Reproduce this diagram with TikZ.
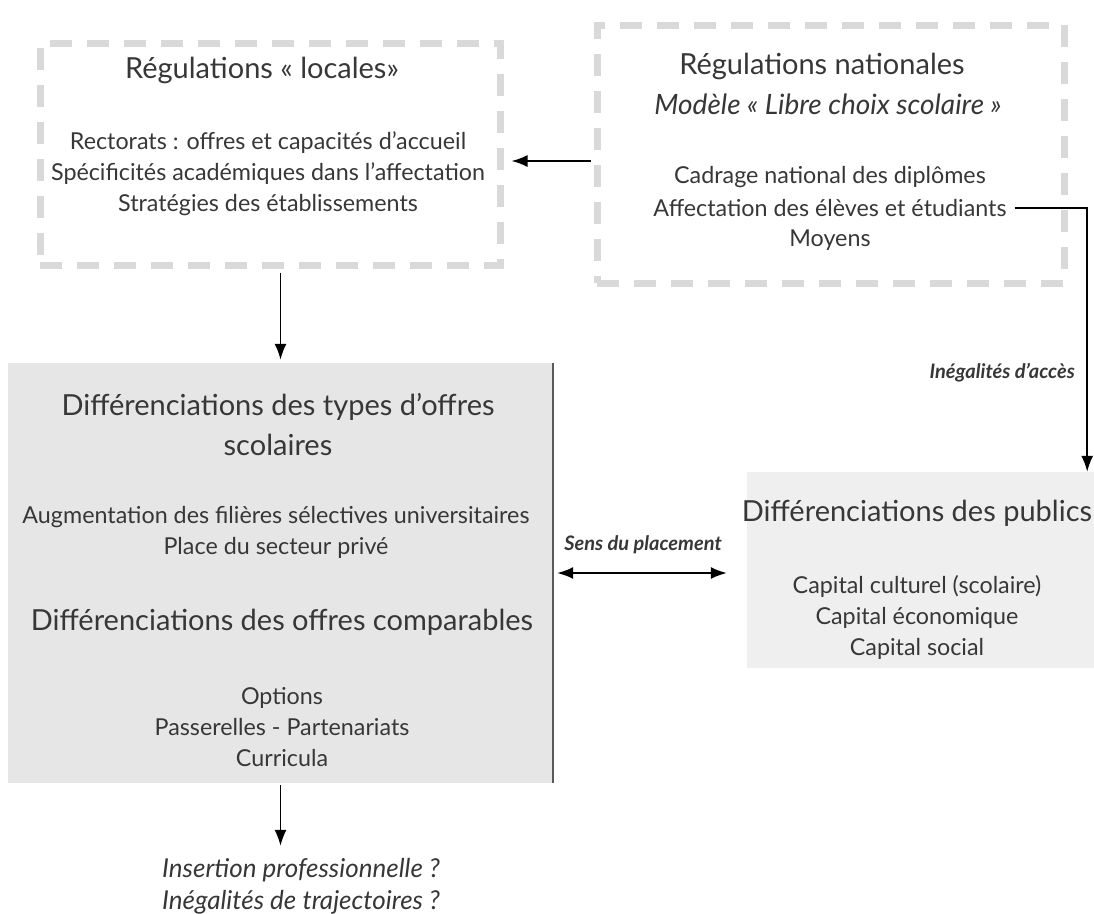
\documentclass[tikz,border=0pt]{standalone}
\usepackage{fontspec}
\setmainfont{Lato}
\usetikzlibrary{arrows.meta}

\definecolor{dashgray}{RGB}{217,217,217}
\definecolor{offregray}{RGB}{230,230,230}
\definecolor{publicgray}{RGB}{238,239,238}
\definecolor{edgegray}{RGB}{90,90,90}
\definecolor{inkgray}{RGB}{55,55,55}

\tikzset{
	regbox/.style={draw=dashgray, line width=7pt, dash pattern=on 22pt off 15pt, inner sep=0pt},
	titletext/.style={inner sep=0pt, align=center, text=inkgray, font=\fontsize{29}{40}\selectfont},
	bodytext/.style={inner sep=0pt, align=center, text=inkgray, font=\fontsize{23.3}{31}\selectfont},
	tagtext/.style={inner sep=0pt, text=inkgray, font=\fontsize{20}{22}\selectfont\bfseries\itshape},
	link/.style={black, line width=1.8pt},
}

\begin{document}
\begin{tikzpicture}[x=1pt, y=-1pt, >={Latex[length=16pt, width=12pt]}]
			    \useasboundingbox (0, 0) rectangle (1094, 913);

			    \node [regbox, minimum width=460pt, minimum height=222pt] at (270, 154) (locales) {};
			    \node [regbox, minimum width=467pt, minimum height=258pt] at (830.5, 154) (nationales) {};
			    \node [fill=offregray, inner sep=0pt, minimum width=545pt, minimum height=420pt] at (280.5, 573) (offres) {};
			    \node [fill=publicgray, inner sep=0pt, minimum width=347pt, minimum height=196pt] at (920.5, 570) (publics) {};
			    \draw [edgegray, line width=2pt] (offres.north east) -- (offres.south east);

			    \node [titletext] at (262, 70) (loctitle) {Régulations « locales»};
			    \node [bodytext] at (268, 174) (locbody) {Rectorats : offres et capacités d’accueil\\Spécificités académiques dans l’affectation\\Stratégies des établissements};

			    \node [titletext] at (822, 66) (nattitle) {Régulations nationales};
			    \node [bodytext, font=\fontsize{28}{31}\selectfont\itshape] at (828, 104) (natmodel) {Modèle « Libre choix scolaire »};
			    \node [bodytext] at (830, 177) (natcadre) {Cadrage national des diplômes};
			    \node [bodytext] at (830, 208) (nataff) {Affectation des élèves et étudiants};
			    \node [bodytext] at (830, 240) (natmoyens) {Moyens};

			    \node [titletext] at (278, 425) (typtitle) {Différenciations des types d’offres\\scolaires};
			    \node [bodytext] at (276, 532) (typbody) {Augmentation des filières sélectives universitaires\\Place du secteur privé};
			    \node [titletext] at (282, 622) (comptitle) {Différenciations des offres comparables};
			    \node [bodytext] at (282, 727) (compbody) {Options\\Passerelles - Partenariats\\Curricula};

			    \node [titletext] at (917, 513) (pubtitle) {Différenciations des publics};
			    \node [bodytext] at (917, 617) (pubbody) {Capital culturel (scolaire)\\Capital économique\\Capital social};

			    \node [tagtext] at (643, 545) (sens) {Sens du placement};
			    \node [tagtext, anchor=east] at (1075, 373) (acces) {Inégalités d’accès};
			    \node [bodytext, font=\fontsize{26}{32}\selectfont\itshape] at (301, 886) (suites) {Insertion professionnelle ?\\Inégalités de trajectoires ?};

			    \draw [link, ->, shorten <=3pt, shorten >=8pt] ([yshift=-7pt]nationales.west) -- ([yshift=-7pt]locales.east);
			    \draw [link, ->, shorten <=4pt, shorten >=3pt] (locales.south -| offres.north) -- (offres.north);
			    \draw [link, ->, shorten <=8pt] (nataff.east) -| ([xshift=-7pt]publics.north east);
			    \draw [link, <->, shorten <=4pt, shorten >=20pt] (offres.east) -- (offres.east -| publics.west);
			    \draw [link, ->, shorten <=2pt, shorten >=12pt] (offres.south) -- (offres.south |- suites.north);
		    \end{tikzpicture}
\end{document}
